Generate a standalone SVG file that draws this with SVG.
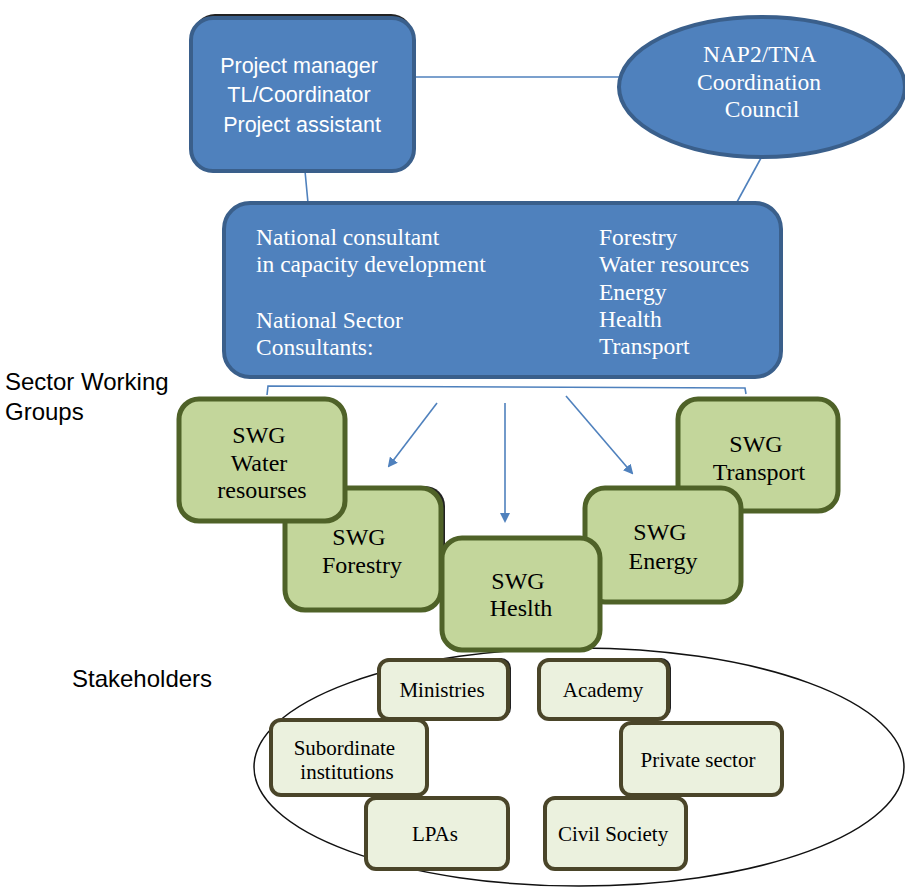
<svg xmlns="http://www.w3.org/2000/svg" width="905" height="888" viewBox="0 0 905 888">
<defs>
<style>
.blue{fill:#4f81bd;stroke:#3a5f8b;stroke-width:4}
.green{fill:#c3d69b;stroke:#4f6228;stroke-width:5}
.stake{fill:#ebf1de;stroke:#4a4529;stroke-width:4}
.shadow{fill:#222;stroke:none}
.sans{font-family:"Liberation Sans","Open Sans",sans-serif}
.serif{font-family:"Liberation Serif","DejaVu Serif",serif}
.wt{fill:#ffffff}
.bt{fill:#000000}
.conn{stroke:#4f81bd;stroke-width:1.6;fill:none}
</style>
<marker id="arr" markerWidth="10" markerHeight="10" refX="8" refY="5" orient="auto" markerUnits="userSpaceOnUse" viewBox="0 0 10 10">
<path d="M0,0 L10,5 L0,10 z" fill="#4f81bd"/>
</marker>
</defs>
<rect width="905" height="888" fill="#ffffff"/>

<g id="connectors">
<line class="conn" x1="414" y1="77" x2="620" y2="77"/>
<line class="conn" x1="305" y1="171" x2="308" y2="203"/>
<line class="conn" x1="761" y1="158" x2="737" y2="202"/>
<polyline class="conn" points="267,395 268,386 745,388 746,394"/>
<line class="conn" x1="437" y1="403" x2="389" y2="466" marker-end="url(#arr)"/>
<line class="conn" x1="505" y1="403" x2="505" y2="521" marker-end="url(#arr)"/>
<line class="conn" x1="566" y1="396" x2="632" y2="473" marker-end="url(#arr)"/>
</g>

<g id="pm">
<rect class="shadow" x="193" y="14" width="220" height="150" rx="22"/>
<rect class="blue" x="191" y="18" width="223" height="153" rx="22"/>
<text class="sans wt" font-size="21.5" text-anchor="middle">
<tspan x="302" y="73">Project manager</tspan>
<tspan x="302" y="102">TL/Coordinator</tspan>
<tspan x="302" y="132">Project assistant</tspan>
</text>
</g>

<g id="council">
<ellipse class="blue" cx="762" cy="87" rx="143" ry="70"/>
<text class="serif wt" font-size="23.5" text-anchor="middle">
<tspan x="762" y="62">NAP2/TNA</tspan>
<tspan x="762" y="90">Coordination</tspan>
<tspan x="762" y="117">Council</tspan>
</text>
</g>

<g id="consultants">
<rect class="blue" x="224" y="203" width="557" height="174" rx="26"/>
<text class="serif wt" font-size="23.5">
<tspan x="256" y="245">National consultant</tspan>
<tspan x="256" y="272">in capacity development</tspan>
<tspan x="256" y="328">National Sector</tspan>
<tspan x="256" y="355">Consultants:</tspan>
<tspan x="599" y="245">Forestry</tspan>
<tspan x="599" y="272">Water resources</tspan>
<tspan x="599" y="300">Energy</tspan>
<tspan x="599" y="327">Health</tspan>
<tspan x="599" y="354">Transport</tspan>
</text>
</g>

<text class="sans bt" font-size="24" x="5" y="390">Sector Working</text>
<text class="sans bt" font-size="24" x="5" y="420">Groups</text>
<text class="sans bt" font-size="24" x="72" y="687">Stakeholders</text>

<g id="swg-forestry">
<rect class="shadow" x="289" y="486" width="156" height="122" rx="20"/>
<rect class="green" x="285" y="488" width="156" height="122" rx="20"/>
<text class="serif bt" font-size="24" text-anchor="middle">
<tspan x="362" y="545">SWG</tspan>
<tspan x="362" y="573">Forestry</tspan>
</text>
</g>

<g id="swg-water">
<rect class="green" x="179" y="399" width="166" height="122" rx="20"/>
<text class="serif bt" font-size="24" text-anchor="middle">
<tspan x="262" y="443">SWG</tspan>
<tspan x="262" y="471">Water</tspan>
<tspan x="262" y="498">resourses</tspan>
</text>
</g>

<g id="swg-transport">
<rect class="green" x="678" y="399" width="160" height="112" rx="20"/>
<text class="serif bt" font-size="24" text-anchor="middle">
<tspan x="759" y="452">SWG</tspan>
<tspan x="759" y="480">Transport</tspan>
</text>
</g>

<g id="swg-energy">
<rect class="green" x="585" y="488" width="156" height="114" rx="20"/>
<text class="serif bt" font-size="24" text-anchor="middle">
<tspan x="663" y="540">SWG</tspan>
<tspan x="663" y="569">Energy</tspan>
</text>
</g>

<g id="stakeholders-area">
<ellipse cx="579" cy="767" rx="325" ry="119" fill="none" stroke="#111" stroke-width="1.5"/>
</g>

<g id="swg-health">
<rect class="green" x="442" y="538" width="158" height="112" rx="20"/>
<text class="serif bt" font-size="24" text-anchor="middle">
<tspan x="521" y="589">SWG</tspan>
<tspan x="521" y="616">Heslth</tspan>
</text>
</g>

<g id="ministries">
<rect class="shadow" x="381" y="658" width="130" height="60" rx="10"/>
<rect class="stake" x="379" y="660" width="129" height="59" rx="10"/>
<text class="serif bt" font-size="21" text-anchor="middle" x="442" y="697">Ministries</text>
</g>

<g id="academy">
<rect class="shadow" x="541" y="658" width="130" height="60" rx="10"/>
<rect class="stake" x="539" y="660" width="129" height="59" rx="10"/>
<text class="serif bt" font-size="21" text-anchor="middle" x="603" y="697">Academy</text>
</g>

<g id="subordinate">
<rect class="stake" x="271" y="720" width="156" height="75" rx="10"/>
<text class="serif bt" font-size="21" text-anchor="middle">
<tspan x="347" y="755">Subordinate</tspan>
<tspan x="347" y="779">institutions</tspan>
</text>
</g>

<g id="private">
<rect class="stake" x="621" y="723" width="161" height="72" rx="10"/>
<text class="serif bt" font-size="21" text-anchor="middle" x="698" y="767">Private sector</text>
</g>

<g id="lpas">
<rect class="stake" x="366" y="798" width="142" height="71" rx="10"/>
<text class="serif bt" font-size="21" text-anchor="middle" x="435" y="841">LPAs</text>
</g>

<g id="civil">
<rect class="stake" x="545" y="798" width="141" height="71" rx="10"/>
<text class="serif bt" font-size="21" text-anchor="middle" x="613" y="841">Civil Society</text>
</g>
</svg>
